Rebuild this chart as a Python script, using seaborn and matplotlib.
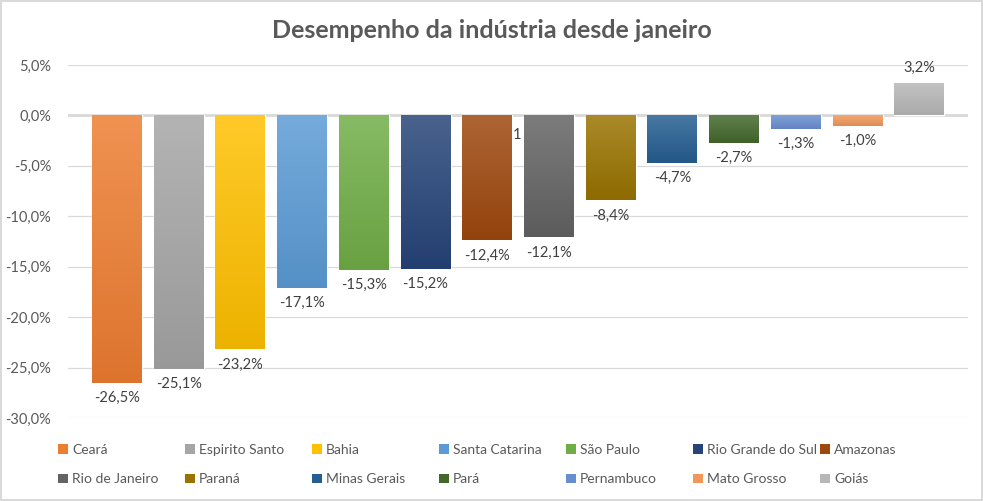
import numpy as np
import pandas as pd
import matplotlib
matplotlib.use("Agg")
import matplotlib.pyplot as plt
import matplotlib.colors as mcolors
from matplotlib.patches import Patch
import seaborn as sns

states = ["Ceará", "Espirito Santo", "Bahia", "Santa Catarina", "São Paulo",
          "Rio Grande do Sul", "Amazonas", "Rio de Janeiro", "Paraná",
          "Minas Gerais", "Pará", "Pernambuco", "Mato Grosso", "Goiás"]
values = [-26.5, -25.1, -23.2, -17.1, -15.3, -15.2, -12.4, -12.1, -8.4,
          -4.7, -2.7, -1.3, -1.0, 3.2]
colors = ["#ED7D31", "#A5A5A5", "#FFC000", "#5B9BD5", "#70AD47", "#264478",
          "#9E480E", "#636363", "#997300", "#255E91", "#43682B", "#698ED0",
          "#F1975A", "#B7B7B7"]
yticks = [5, 0, -5, -10, -15, -20, -25, -30]
title = "Desempenho da indústria desde janeiro"

df = pd.DataFrame({"estado": states, "valor": values})

sns.set_theme(style="white")
plt.rcParams["font.family"] = ["Lato", "DejaVu Sans"]

W, H = 983, 501
fig = plt.figure(figsize=(W / 100, H / 100), dpi=100)
fig.patch.set_facecolor("white")
fig.patch.set_edgecolor("#D9D9D9")
fig.patch.set_linewidth(1.5)

ax = fig.add_axes([68 / W, 1 - 418 / H, 900 / W, (418 - 65) / H])
sns.barplot(data=df, x="estado", y="valor", hue="estado", palette=colors,
            order=states, hue_order=states, dodge=False, legend=False,
            width=0.81, ax=ax, zorder=3, saturation=1)

ax.set_xlim(-0.794, 13.79)
ax.set_ylim(-30, 5)
ax.set_yticks(yticks)
ax.set_yticklabels([f"{t:.1f}%".replace(".", ",") for t in yticks],
                   fontsize=10.5, color="#595959")
ax.tick_params(axis="y", length=0, pad=12)
ax.set_xticks([])
ax.set_xlabel("")
ax.set_ylabel("")
for s in ax.spines.values():
    s.set_visible(False)
ax.grid(axis="y", color="#D9D9D9", linewidth=0.9, zorder=0)
ax.axhline(0, color="#D9D9D9", linewidth=2.0, zorder=2)

# gradient fill on each bar
def blend(c, t, amt):
    c = np.array(mcolors.to_rgb(c)); t = np.array(t)
    return c + (t - c) * amt

for patch, col in zip(ax.patches, colors):
    x0, y0 = patch.get_x(), patch.get_y()
    w, h = patch.get_width(), patch.get_height()
    top = blend(col, (1, 1, 1), 0.16)
    bot = blend(col, (0, 0, 0), 0.07)
    n = 64
    grad = np.linspace(0, 1, n)[:, None, None]
    img = top[None, None, :] * (1 - grad) + bot[None, None, :] * grad
    ylo, yhi = min(y0, y0 + h), max(y0, y0 + h)
    im = ax.imshow(img, extent=(x0, x0 + w, ylo, yhi), aspect="auto",
                   origin="upper", zorder=4, interpolation="bilinear")
    im.set_clip_path(patch)

# data labels
for i, v in enumerate(values):
    lab = f"{v:.1f}%".replace(".", ",")
    if v < 0:
        ax.annotate(lab, (i, v), xytext=(0, -6), textcoords="offset points",
                    ha="center", va="top", fontsize=10.5, color="#404040", zorder=5)
    else:
        ax.annotate(lab, (i, v), xytext=(0, 6), textcoords="offset points",
                    ha="center", va="bottom", fontsize=10.5, color="#404040", zorder=5)
# stray label present in the original chart
ax.text(6.48, -1.9, "1", ha="center", va="center", fontsize=10.5, color="#404040", zorder=5)

fig.text(0.5, 1 - 31 / H, title, ha="center", va="center", fontsize=18,
         fontweight="bold", color="#595959")

# legend: 7 columns, 2 rows, equal column widths
for c in range(7):
    idx = [c, c + 7]
    handles = [Patch(facecolor=colors[j], edgecolor="none") for j in idx]
    labels = [states[j] for j in idx]
    leg = fig.legend(handles, labels, loc="upper left",
                     bbox_to_anchor=((58 + 127 * c) / W, 1 - 444 / H),
                     frameon=False, fontsize=10, handlelength=0.7, handleheight=0.7,
                     handletextpad=0.3, labelspacing=1.25, borderpad=0,
                     borderaxespad=0, labelcolor="#595959")

fig.savefig("out.png", dpi=100, facecolor="white", edgecolor=fig.get_edgecolor())
